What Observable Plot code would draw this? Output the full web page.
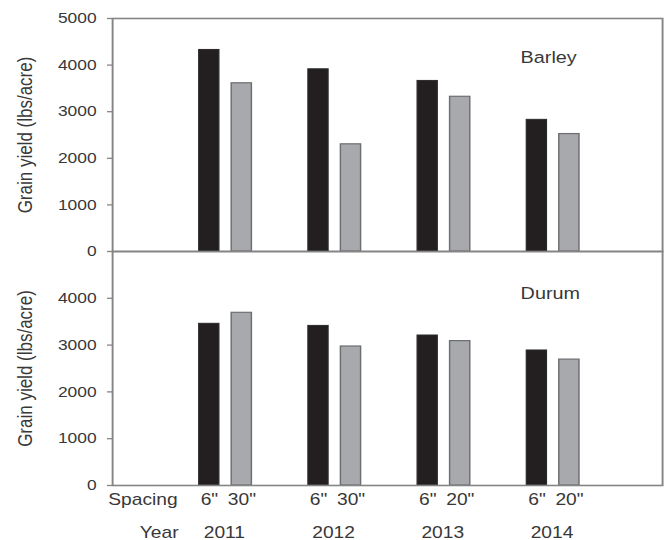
<!DOCTYPE html>
<html>
<head>
<meta charset="utf-8">
<script src="https://cdn.jsdelivr.net/npm/d3@7"></script>
<script src="https://cdn.jsdelivr.net/npm/@observablehq/plot@0.6"></script>
<style>
  html, body { margin: 0; padding: 0; background: #fff; }
  #wrap { position: relative; width: 665px; height: 540px; overflow: hidden; background: #fff; }
  #inner { position: absolute; left: 0; top: 0; transform-origin: 0 0; }
  #inner svg { position: absolute; left: 0; overflow: visible; }
</style>
</head>
<body>
<div id="wrap"><div id="inner"></div></div>
<script>
// ---- data ----
const years = ["2011", "2012", "2013", "2014"];
const spacingNarrow = ['6"', '6"', '6"', '6"'];
const spacingWide = ['30"', '30"', '20"', '20"'];
const barleyNarrow = [4325, 3910, 3660, 2825];
const barleyWide = [3610, 2300, 3320, 2520];
const durumNarrow = [3455, 3410, 3205, 2885];
const durumWide = [3690, 2970, 3085, 2690];
const yTicksTop = [0, 1000, 2000, 3000, 4000, 5000];
const yTicksBottom = [0, 1000, 2000, 3000, 4000];
const yLabel = "Grain yield (lbs/acre)";

// ---- layout (the reference is horizontally stretched) ----
const S = 1.2;
const W = 665 / S;
const font = "Liberation Sans, Arial, Helvetica, sans-serif";
const textColor = "#383838";
const lineColor = "#858585";

const rows = (vals, labels) => years.map((y, i) => ({year: y, value: vals[i], label: labels[i]}));

function panel({narrow, wide, ticks, title, titleDy, height, marginBottom, bottom}) {
  const marks = [
    Plot.barY(rows(narrow, spacingNarrow), {
      x: "year", y: "value", fill: "#231f20", stroke: "#2a2a2a", strokeWidth: 1,
      insetLeft: 29.5 / S, insetRight: 59.5 / S
    }),
    Plot.barY(rows(wide, spacingWide), {
      x: "year", y: "value", fill: "#a7a9ac", stroke: "#6d6e71", strokeWidth: 1.2,
      insetLeft: 62 / S, insetRight: 27 / S
    }),
    Plot.frame({stroke: lineColor, strokeWidth: 1.6}),
    Plot.axisY(ticks, {
      anchor: "left", tickSize: 5 / S, tickPadding: 11 / S, stroke: lineColor, strokeWidth: 1.3,
      fill: textColor, fontSize: 14.5, label: null, tickFormat: d3.format("d")
    }),
    Plot.text([yLabel], {
      frameAnchor: "left", textAnchor: "middle", rotate: -90, dx: -(112 - 25) / S,
      fontSize: 17, fill: textColor
    }),
    Plot.text([title], {
      frameAnchor: "top-right", textAnchor: "start", dx: -142 / S, dy: titleDy,
      fontSize: 16.5, fill: textColor
    })
  ];
  if (bottom) {
    marks.push(
      Plot.axisX(years, {
        anchor: "bottom", tickSize: 0, tickPadding: 41, fontSize: 16, fill: textColor, label: null
      }),
      Plot.text(rows(narrow, spacingNarrow), {
        x: "year", text: "label", frameAnchor: "bottom", dy: 20, dx: -15 / S,
        fontSize: 16, fill: textColor
      }),
      Plot.text(rows(wide, spacingWide), {
        x: "year", text: "label", frameAnchor: "bottom", dy: 20, dx: 17.5 / S,
        fontSize: 16, fill: textColor
      }),
      Plot.text(["Spacing"], {
        frameAnchor: "bottom-left", textAnchor: "end", dx: (177 - 112) / S, dy: 20,
        fontSize: 16, fill: textColor
      }),
      Plot.text(["Year"], {
        frameAnchor: "bottom-left", textAnchor: "end", lineAnchor: "top", dx: (178 - 112) / S, dy: 41,
        fontSize: 16, fill: textColor
      })
    );
  }
  return Plot.plot({
    width: W,
    height,
    marginTop: 18,
    marginBottom,
    marginLeft: 112 / S,
    marginRight: 3 / S,
    style: {fontFamily: font, background: "transparent", overflow: "visible"},
    x: {type: "band", domain: years, paddingInner: 0, paddingOuter: 0.5, axis: null},
    y: {domain: [0, 5000], axis: null},
    marks
  });
}

const innerDiv = document.getElementById("inner");
innerDiv.style.width = W + "px";
innerDiv.style.height = "540px";
innerDiv.style.transform = `scaleX(${S})`;

const topPanel = panel({narrow: barleyNarrow, wide: barleyWide, ticks: yTicksTop, title: "Barley", titleDy: 33, height: 253, marginBottom: 2, bottom: false});
topPanel.style.top = "0px";
const bottomPanel = panel({narrow: durumNarrow, wide: durumWide, ticks: yTicksBottom, title: "Durum", titleDy: 36, height: 307, marginBottom: 55, bottom: true});
bottomPanel.style.top = "233px";
innerDiv.appendChild(bottomPanel);
innerDiv.appendChild(topPanel);
</script>
</body>
</html>
